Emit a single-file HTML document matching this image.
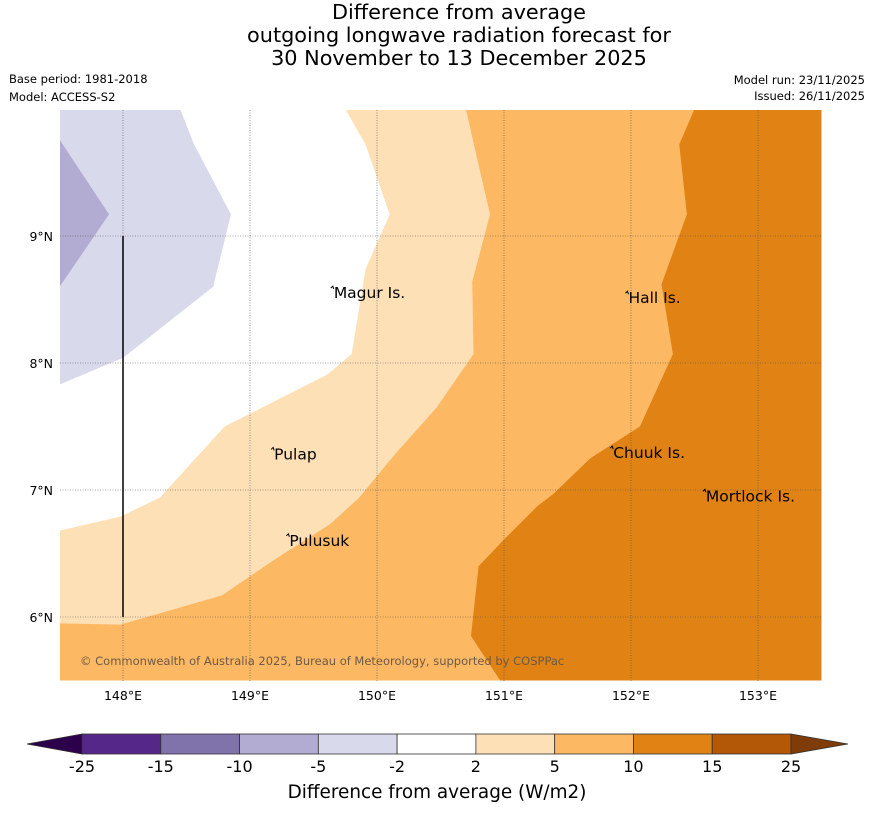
<!DOCTYPE html>
<html><head><meta charset="utf-8"><style>
body{margin:0;background:#fff;width:873px;height:816px;overflow:hidden;font-family:"DejaVu Sans","Liberation Sans",sans-serif}
svg{position:absolute;left:0;top:0;font-family:"DejaVu Sans","Liberation Sans",sans-serif}
</style></head><body>
<svg width="873" height="816" id="s">
<text x="459" y="19" font-size="20.8" text-anchor="middle">Difference from average</text>
<text x="459" y="42" font-size="20.8" text-anchor="middle">outgoing longwave radiation forecast for</text>
<text x="459" y="65" font-size="20.8" text-anchor="middle">30 November to 13 December 2025</text>
<text x="9" y="83" font-size="11.5">Base period: 1981-2018</text>
<text x="9" y="101" font-size="11.5">Model: ACCESS-S2</text>
<text x="865" y="84" font-size="11.5" text-anchor="end">Model run: 23/11/2025</text>
<text x="865" y="100" font-size="11.5" text-anchor="end">Issued: 26/11/2025</text>
<g id="map"></g>
<g id="cb"></g>
<text x="437" y="798" font-size="18.4" text-anchor="middle">Difference from average (W/m2)</text>
</svg>
<script>
const lonTicks=[148,149,150,151,152,153];
const latTicks=[9,8,7,6];
const cbLevels=[-25,-15,-10,-5,-2,2,5,10,15,25];
const cbColors=["#542788","#8073ac","#b2abd2","#d8daeb","#ffffff","#fee0b6","#fdb863","#e08214","#b35806"];
const places=[["Magur Is.",149.66,8.55],["Hall Is.",151.98,8.51],["Pulap",149.19,7.28],["Chuuk Is.",151.86,7.29],["Mortlock Is.",152.59,6.95],["Pulusuk",149.31,6.6]];
// contour polygons in [lon,lat]
const lavender=[[147.5,10],[148.45,10],[148.56,9.72],[148.85,9.17],[148.71,8.6],[148,8.04],[147.5,7.83]];
const purple=[[147.5,9.76],[147.89,9.17],[147.5,8.6]];
const paleOrange=[[149.75,10],[149.91,9.72],[150.1,9.17],[149.91,8.74],[149.8,8.07],[149.61,7.91],[148.8,7.5],[148.29,6.94],[147.98,6.79],[147.5,6.68],[147.5,5.5],[153.5,5.5],[153.5,10]];
const orange=[[150.7,10],[150.77,9.69],[150.89,9.17],[150.75,8.64],[150.76,8.07],[150.47,7.65],[150.14,7.28],[149.86,6.94],[149.63,6.73],[149.19,6.45],[148.78,6.17],[147.98,5.94],[147.5,5.95],[147.5,5.5],[153.5,5.5],[153.5,10]];
const darkOrange=[[152.5,10],[152.38,9.72],[152.44,9.17],[152.24,8.62],[152.33,8.07],[152.07,7.5],[151.68,7.25],[151.39,6.97],[151.26,6.87],[151.01,6.62],[150.8,6.4],[150.74,5.85],[150.97,5.5],[153.5,5.5],[153.5,10]];
const X=l=>123+(l-148)*127, Y=la=>236-(la-9)*127;
const NS="http://www.w3.org/2000/svg";
const map=document.getElementById('map'), cb=document.getElementById('cb');
function mk(tag,at,parent){const e=document.createElementNS(NS,tag);for(const k in at)e.setAttribute(k,at[k]);parent.appendChild(e);return e;}
const cp=mk('clipPath',{id:'c'},map);mk('rect',{x:60,y:110,width:762,height:571},cp);
const g=mk('g',{'clip-path':'url(#c)'},map);
function poly(p,col,name){const e=mk('polygon',{points:p.map(q=>X(q[0])+','+Y(q[1])).join(' '),fill:col},g);

}
poly(lavender,'#d8daeb','contour-neg-5');
poly(purple,'#b2abd2','contour-neg-10');
poly(paleOrange,'#fee0b6','contour-2');
poly(orange,'#fdb863','contour-5');
poly(darkOrange,'#e08214','contour-10');
lonTicks.forEach(l=>{const x=X(l);
mk('line',{x1:x,y1:110,x2:x,y2:681,stroke:'#555','stroke-width':0.6,'stroke-dasharray':'1,1.5'},map);
const t=mk('text',{x:x,y:700,'font-size':12.5,'text-anchor':'middle'},map);t.textContent=l+'°E';

});
latTicks.forEach(la=>{const y=Y(la);
mk('line',{x1:60,y1:y,x2:822,y2:y,stroke:'#555','stroke-width':0.6,'stroke-dasharray':'1,1.5'},map);
const t=mk('text',{x:53,y:y+5,'font-size':12.5,'text-anchor':'end'},map);t.textContent=la+'°N';

});
mk('line',{x1:123,y1:Y(9),x2:123,y2:Y(6),stroke:'#000','stroke-width':1.5},map);
places.forEach(p=>{const x=X(p[1]),y=Y(p[2]);
mk('path',{d:`M${x-3},${y-5} l2,-2 l1,3`,stroke:'#000',fill:'none','stroke-width':1},map);
const t=mk('text',{x:x,y:y+5,'font-size':15.5},map);t.textContent=p[0];

});
const ct=mk('text',{x:80,y:665,'font-size':11.5,fill:'#6b5a46'},map);ct.textContent='© Commonwealth of Australia 2025, Bureau of Meteorology, supported by COSPPac';


const L=82,R=791,w=(R-L)/(cbLevels.length-1);
cbColors.forEach((c,i)=>{const r=mk('rect',{x:L+i*w,y:734,width:w,height:20,fill:c,stroke:'#333','stroke-width':0.8},cb);

});
mk('polygon',{points:`${L},734 27,744 ${L},754`,fill:'#2d004b',stroke:'#333','stroke-width':0.8},cb);
mk('polygon',{points:`${R},734 848,744 ${R},754`,fill:'#7f3b08',stroke:'#333','stroke-width':0.8},cb);
cbLevels.forEach((v,i)=>{const t=mk('text',{x:L+i*w,y:772,'font-size':16,'text-anchor':'middle'},cb);t.textContent=v;

});
</script>
</body></html>
